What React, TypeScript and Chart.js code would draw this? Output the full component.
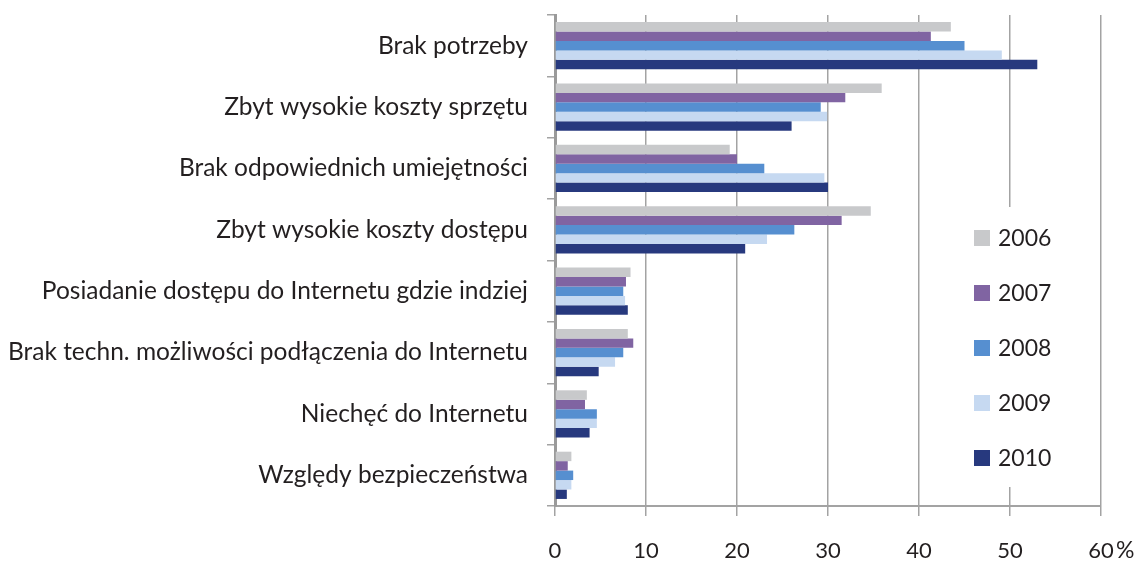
import React, { useEffect, useRef } from "react";
import { Chart, registerables } from "chart.js";

Chart.register(...registerables);

const categories = [
  "Brak potrzeby",
  "Zbyt wysokie koszty sprzętu",
  "Brak odpowiednich umiejętności",
  "Zbyt wysokie koszty dostępu",
  "Posiadanie dostępu do Internetu gdzie indziej",
  "Brak techn. możliwości podłączenia do Internetu",
  "Niechęć do Internetu",
  "Względy bezpieczeństwa",
];

const years = ["2006", "2007", "2008", "2009", "2010"];

const values2006 = [43.5, 35.9, 19.2, 34.7, 8.3, 8.0, 3.5, 1.8];
const values2007 = [41.3, 31.9, 20.0, 31.5, 7.8, 8.6, 3.3, 1.4];
const values2008 = [45.0, 29.2, 23.0, 26.3, 7.5, 7.5, 4.6, 2.0];
const values2009 = [49.1, 29.9, 29.6, 23.3, 7.7, 6.6, 4.6, 1.8];
const values2010 = [53.0, 26.0, 30.0, 20.9, 8.0, 4.8, 3.8, 1.3];

const colors = ["#c8c9cb", "#8064a2", "#568fd0", "#c6d9f1", "#27397e"];

const xTicks = [0, 10, 20, 30, 40, 50, 60];

const FONT = "Lato, 'Open Sans', sans-serif";
const TEXT = "#231f20";

export default function App() {
  const ref = useRef<HTMLCanvasElement | null>(null);

  useEffect(() => {
    document.body.style.margin = "0";
    const canvas = ref.current;
    if (!canvas) return;
    const series = [values2006, values2007, values2008, values2009, values2010];

    const legendPlugin = {
      id: "sideLegend",
      afterDraw(chart: any) {
        const ctx = chart.ctx;
        const xs = chart.scales.x;
        ctx.save();
        ctx.fillStyle = "#ffffff";
        ctx.fillRect(955, 207, 125, 280);
        ctx.font = `23px ${FONT}`;
        ctx.textBaseline = "middle";
        ctx.textAlign = "left";
        const startY = 238;
        const step = 55;
        years.forEach((y, i) => {
          const cy = startY + i * step;
          ctx.fillStyle = colors[i];
          ctx.fillRect(974, cy - 8, 16, 16);
          ctx.fillStyle = TEXT;
          ctx.fillText(y, 998, cy + 1);
        });
        const lastX = xs.getPixelForValue(60);
        ctx.font = `23px ${FONT}`;
        ctx.fillText("%", lastX + 15, 551);
        ctx.restore();
      },
    };

    const chart = new Chart(canvas, {
      type: "bar",
      data: {
        labels: categories,
        datasets: years.map((y, i) => ({
          label: y,
          data: series[i],
          backgroundColor: colors[i],
          borderWidth: 0,
          categoryPercentage: 0.77,
          barPercentage: 1.0,
        })),
      },
      options: {
        indexAxis: "y",
        animation: false,
        responsive: false,
        maintainAspectRatio: false,
        layout: { padding: { top: 15, right: 40, left: 0, bottom: 0 } },
        plugins: {
          legend: { display: false },
          tooltip: { enabled: false },
        },
        scales: {
          x: {
            type: "linear",
            min: 0,
            max: 60,
            afterBuildTicks(scale: any) {
              scale.ticks = xTicks.map((v) => ({ value: v }));
            },
            afterFit(scale: any) {
              scale.height = 57;
              scale.paddingLeft = 0;
              scale.paddingRight = 0;
            },
            ticks: {
              stepSize: 10,
              padding: 22,
              color: TEXT,
              font: { family: FONT, size: 22 },
              maxRotation: 0,
              callback: (v: any) => String(v),
            },
            grid: {
              color: "#a3a3a3",
              lineWidth: 1.5,
              tickLength: 10,
              drawTicks: true,
            },
            border: { color: "#a3a3a3", width: 2 },
          },
          y: {
            type: "category",
            afterFit(scale: any) {
              scale.width = 555;
              scale.paddingTop = 0;
              scale.paddingBottom = 0;
            },
            ticks: {
              padding: 19,
              color: TEXT,
              font: { family: FONT, size: 24.5 },
              autoSkip: false,
            },
            grid: {
              offset: true,
              drawOnChartArea: false,
              drawTicks: true,
              tickLength: 8,
              color: "#a3a3a3",
              lineWidth: 1.5,
            },
            border: { color: "#9a9a9a", width: 3 },
          },
        },
      },
      plugins: [legendPlugin],
    } as any);

    return () => chart.destroy();
  }, []);

  return (
    <div style={{ position: "fixed", left: 0, top: 0, width: 1141, height: 563, background: "#fff" }}>
      <canvas ref={ref} width={1141} height={563} style={{ width: 1141, height: 563, display: "block" }} />
    </div>
  );
}
